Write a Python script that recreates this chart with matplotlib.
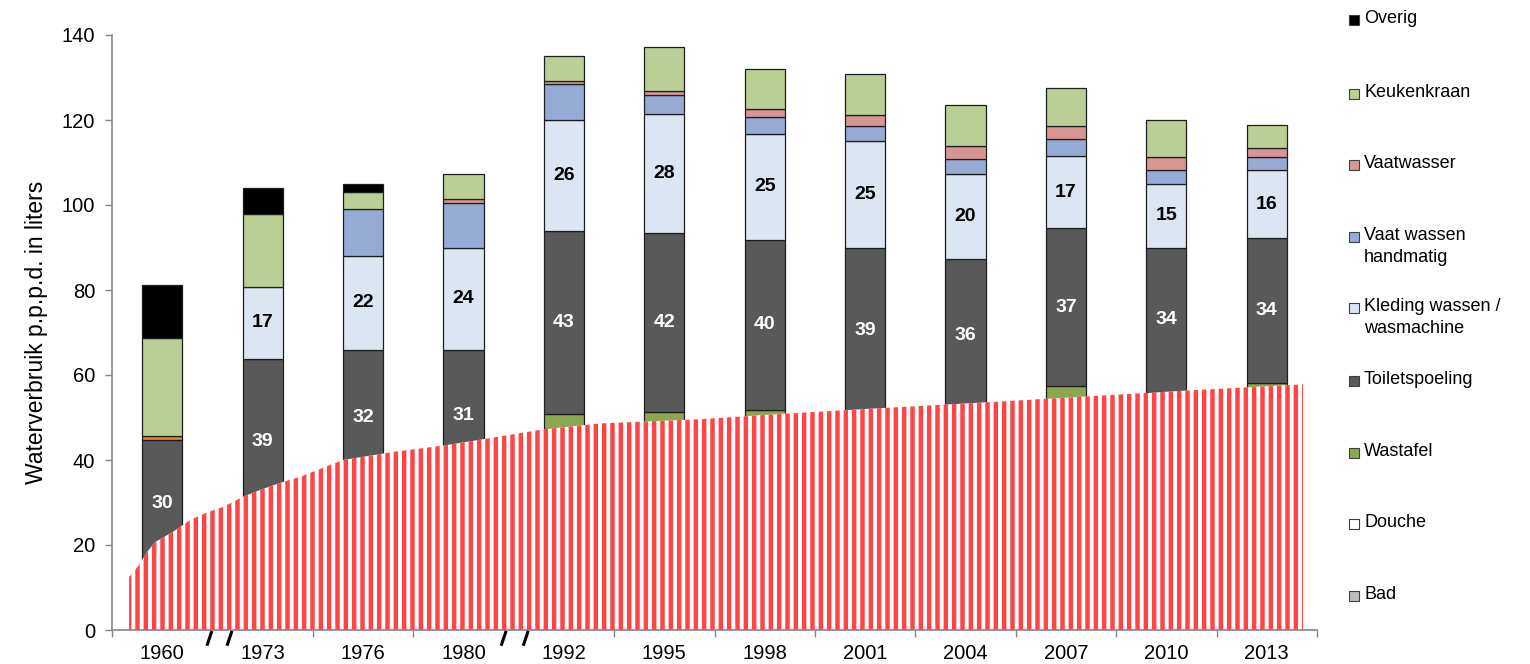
import numpy as np
import matplotlib.pyplot as plt
from matplotlib.patches import Rectangle

plt.rcParams['font.family'] = ['Liberation Sans', 'DejaVu Sans']
plt.rcParams['hatch.linewidth'] = 3.2
plt.rcParams['hatch.color'] = '#ff4545'

# --- data (liters per person per day) ---
years = ['1960', '1973', '1976', '1980', '1992', '1995', '1998',
         '2001', '2004', '2007', '2010', '2013']

bad = [3, 5, 7, 7, 9, 8, 7, 6, 4, 3, 2.5, 2]
douche = [9.7, 16.8, 24, 25, 38.2, 39.8, 41.8, 41.5, 44, 49, 49, 51.2]
wastafel = [2, 3, 3, 3, 3.7, 3.5, 3, 3.5, 3.3, 5.5, 4.5, 5]
toilet = [30, 39, 32, 31, 43, 42, 40, 39, 36, 37, 34, 34]
kleding = [0, 17, 22, 24, 26, 28, 25, 25, 20, 17, 15, 16]
vaat_hand = [0, 0, 11, 10.5, 8.5, 4.6, 4, 3.7, 3.5, 4, 3.3, 3.2]
vaatwasser = [1.0, 0, 0, 1.0, 0.8, 1.0, 1.7, 2.4, 3, 3, 3, 2]
keuken = [23.1, 17.2, 4, 5.8, 5.8, 10.2, 9.4, 9.8, 9.7, 9, 8.7, 5.5]
overig = [12.3, 6, 1.9, 0, 0, 0, 0, 0, 0, 0, 0, 0]

# trend band drawn over the lower part of the bars
band_x = [-0.33, -0.24, -0.15, -0.07, 0.10, 0.28, 0.45, 0.61, 0.80, 0.98,
          1.21, 1.37, 1.80, 2.30, 2.80, 3.20, 3.79, 4.36, 5.36, 6.0, 7.0,
          8.0, 9.17, 10.17, 11.36]
band_y = [12.5, 15, 18.4, 20.7, 23, 25.9, 27.7, 29, 31.3, 33, 34.9, 36,
          40, 41.9, 43.4, 44.9, 47.2, 48.6, 49.6, 50.6, 52, 53.3, 54.9,
          56.3, 57.8]

series = [
    ('Bad', bad, '#bfbfbf'),
    ('Douche', douche, '#ffffff'),
    ('Wastafel', wastafel, '#8aa84f'),
    ('Toiletspoeling', toilet, '#595959'),
    ('Kleding wassen /\nwasmachine', kleding, '#dce6f2'),
    ('Vaat wassen\nhandmatig', vaat_hand, '#95abd3'),
    ('Vaatwasser', vaatwasser, '#d99594'),
    ('Keukenkraan', keuken, '#bacf96'),
    ('Overig', overig, '#000000'),
]

fig = plt.figure(figsize=(15.3, 6.64), dpi=100)
ax = fig.add_axes([112 / 1530, 34 / 664, 1205 / 1530, 595 / 664])

x = np.arange(len(years))
bottom = np.zeros(len(years))
seg_bottoms = {}
for name, vals, color in series:
    vals = np.array(vals, dtype=float)
    colors = [color] * len(years)
    if name == 'Vaatwasser':
        colors[0] = '#e3812f'  # 1960 value shown in orange
    lw = np.where(vals > 0, 0.9, 0)
    ax.bar(x, vals, 0.4, bottom=bottom, color=colors, edgecolor='#1e1e1e',
           linewidth=lw, zorder=2)
    seg_bottoms[name] = bottom.copy()
    bottom = bottom + vals

ax.fill_between(band_x, 0, band_y, facecolor='white', edgecolor='#ff4545',
                hatch='||', linewidth=0, zorder=3)

# value labels
tb = seg_bottoms['Toiletspoeling']
for i, v in enumerate(toilet):
    ax.text(i, tb[i] + v / 2, f'{v}', ha='center', va='center', color='white',
            fontsize=14, fontweight='bold', zorder=4)
kb = seg_bottoms['Kleding wassen /\nwasmachine']
for i, v in enumerate(kleding):
    if v > 0:
        ax.text(i, kb[i] + v / 2, f'{v}', ha='center', va='center',
                color='black', fontsize=14, fontweight='bold', zorder=4)

ax.set_xlim(-0.5, 11.5)
ax.set_ylim(0, 140)
ax.set_yticks(range(0, 141, 20))
ax.set_xticks(x)
ax.set_xticklabels(years)
ax.set_xticks([-0.5, 1.5, 2.5] + [k + 0.5 for k in range(4, 12)], minor=True)
ax.tick_params(axis='x', which='major', length=0, pad=10, labelsize=14.5)
ax.tick_params(axis='x', which='minor', length=5, color='#868686', width=1)
ax.tick_params(axis='y', length=5, color='#868686', width=1, labelsize=14.5,
               pad=7)
for side in ['top', 'right']:
    ax.spines[side].set_visible(False)
for side in ['left', 'bottom']:
    ax.spines[side].set_color('#868686')
    ax.spines[side].set_linewidth(1.2)
    ax.spines[side].set_zorder(5)
ax.set_ylabel('Waterverbruik p.p.p.d. in liters', fontsize=16.5, labelpad=10)

# axis break marks
trans = ax.get_xaxis_transform()
for bx in [0.47, 0.67, 3.40, 3.62]:
    ax.plot([bx - 0.02, bx + 0.02], [-0.024, -0.004], color='black', lw=2.2,
            transform=trans, clip_on=False, zorder=6)

# legend, top entry first
leg_y = [20, 94, 165, 237, 308, 381, 453, 524, 596]
for (name, vals, color), py in zip(reversed(series), leg_y):
    fig.add_artist(Rectangle((1349 / 1530, (664 - py - 5) / 664),
                             10 / 1530, 10 / 664, transform=fig.transFigure,
                             facecolor=color, edgecolor='#404040', lw=0.8))
    fig.text(1364 / 1530, (664 - py + 10) / 664, name, fontsize=13,
             va='top', ha='left', linespacing=1.4)

fig.savefig('out.png', dpi=100)
